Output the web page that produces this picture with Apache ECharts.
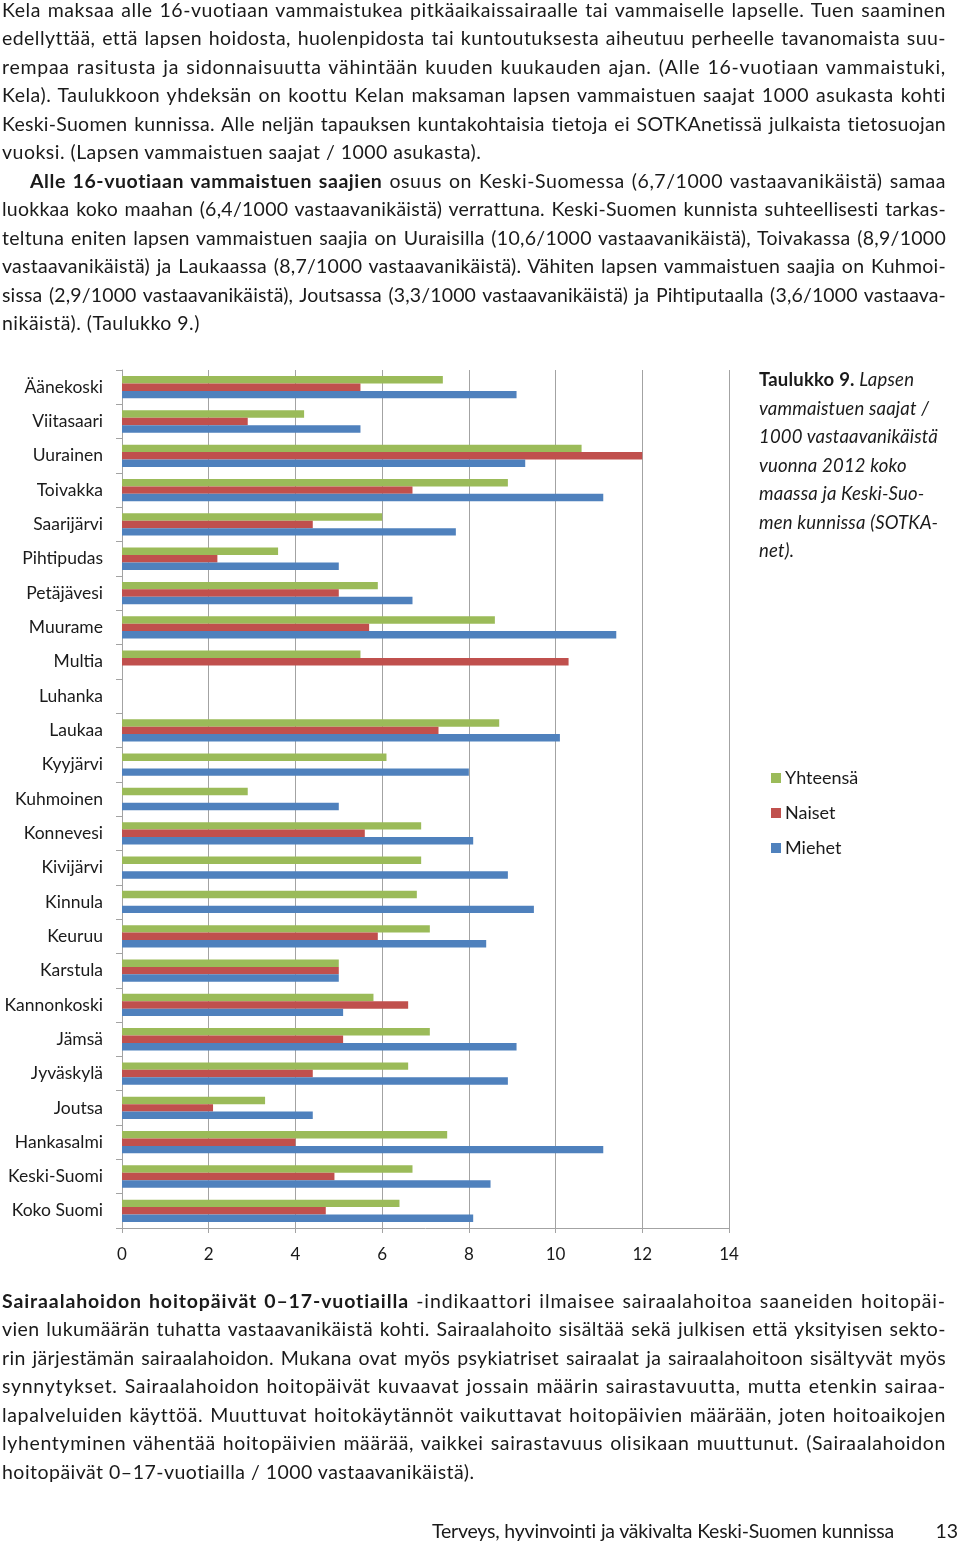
<!DOCTYPE html>
<html>
<head>
<meta charset="utf-8">
<script src="https://cdn.jsdelivr.net/npm/echarts@6/dist/echarts.min.js"></script>
<style>
  html, body { margin: 0; padding: 0; background: #fff; }
  body { width: 960px; height: 1546px; position: relative; overflow: hidden; font-family: Lato, "Open Sans", sans-serif; color: #1a1a1a; }
  #chart { position: absolute; left: 0; top: 0; width: 960px; height: 1546px; }
  .txt { position: absolute; z-index: 2; font-size: 19.5px; line-height: 28.48px; }
  .jl { width: 944px; text-align: justify; text-align-last: justify; white-space: nowrap; }
  .ll { width: 944px; text-align: left; white-space: nowrap; }
  .cap { position: absolute; z-index: 2; left: 759px; top: 365px; font-size: 18.5px; line-height: 28.5px; font-style: italic; white-space: nowrap; letter-spacing: 0.2px; }
  .foot { position: absolute; z-index: 2; top: 1517px; font-size: 19.5px; line-height: 28px; white-space: nowrap; }
</style>
</head>
<body>
<div id="chart"></div>

<div class="txt" style="left:2px; top:-4px;">
  <div class="jl"><span>Kela maksaa alle 16-vuotiaan vammaistukea pitkäaikaissairaalle tai vammaiselle lapselle. Tuen saaminen</span></div>
  <div class="jl"><span>edellyttää, että lapsen hoidosta, huolenpidosta tai kuntoutuksesta aiheutuu perheelle tavanomaista suu-</span></div>
  <div class="jl"><span>rempaa rasitusta ja sidonnaisuutta vähintään kuuden kuukauden ajan. (Alle 16-vuotiaan vammaistuki,</span></div>
  <div class="jl"><span>Kela). Taulukkoon yhdeksän on koottu Kelan maksaman lapsen vammaistuen saajat 1000 asukasta kohti</span></div>
  <div class="jl"><span>Keski-Suomen kunnissa. Alle neljän tapauksen kuntakohtaisia tietoja ei SOTKAnetissä julkaista tietosuojan</span></div>
  <div class="ll"><span>vuoksi. (Lapsen vammaistuen saajat / 1000 asukasta).</span></div>
  <div class="jl" style="width:916px; margin-left:28px;"><span><b>Alle 16-vuotiaan vammaistuen saajien</b> osuus on Keski-Suomessa (6,7/1000 vastaavanikäistä) samaa</span></div>
  <div class="jl"><span>luokkaa koko maahan (6,4/1000 vastaavanikäistä) verrattuna. Keski-Suomen kunnista suhteellisesti tarkas-</span></div>
  <div class="jl"><span>teltuna eniten lapsen vammaistuen saajia on Uuraisilla (10,6/1000 vastaavanikäistä), Toivakassa (8,9/1000</span></div>
  <div class="jl"><span>vastaavanikäistä) ja Laukaassa (8,7/1000 vastaavanikäistä). Vähiten lapsen vammaistuen saajia on Kuhmoi-</span></div>
  <div class="jl"><span>sissa (2,9/1000 vastaavanikäistä), Joutsassa (3,3/1000 vastaavanikäistä) ja Pihtiputaalla (3,6/1000 vastaava-</span></div>
  <div class="ll"><span>nikäistä). (Taulukko 9.)</span></div>
</div>

<div class="cap">
  <div><b style="font-style:normal">Taulukko 9.</b> Lapsen</div>
  <div>vammaistuen saajat /</div>
  <div>1000 vastaavanikäistä</div>
  <div>vuonna 2012 koko</div>
  <div>maassa ja Keski-Suo-</div>
  <div>men kunnissa (SOTKA-</div>
  <div>net).</div>
</div>

<div class="txt" style="left:2px; top:1287px;">
  <div class="jl"><span><b>Sairaalahoidon hoitopäivät 0–17-vuotiailla</b> -indikaattori ilmaisee sairaalahoitoa saaneiden hoitopäi-</span></div>
  <div class="jl"><span>vien lukumäärän tuhatta vastaavanikäistä kohti. Sairaalahoito sisältää sekä julkisen että yksityisen sekto-</span></div>
  <div class="jl"><span>rin järjestämän sairaalahoidon. Mukana ovat myös psykiatriset sairaalat ja sairaalahoitoon sisältyvät myös</span></div>
  <div class="jl"><span>synnytykset. Sairaalahoidon hoitopäivät kuvaavat jossain määrin sairastavuutta, mutta etenkin sairaa-</span></div>
  <div class="jl"><span>lapalveluiden käyttöä. Muuttuvat hoitokäytännöt vaikuttavat hoitopäivien määrään, joten hoitoaikojen</span></div>
  <div class="jl"><span>lyhentyminen vähentää hoitopäivien määrää, vaikkei sairastavuus olisikaan muuttunut. (Sairaalahoidon</span></div>
  <div class="ll"><span>hoitopäivät 0–17-vuotiailla / 1000 vastaavanikäistä).</span></div>
</div>

<div class="foot" style="right:66px; letter-spacing:-0.2px;">Terveys, hyvinvointi ja väkivalta Keski-Suomen kunnissa</div>
<div class="foot" style="right:2px;">13</div>

<script>
// ---- Data ----
const categories = ['Äänekoski','Viitasaari','Uurainen','Toivakka','Saarijärvi','Pihtipudas','Petäjävesi','Muurame','Multia','Luhanka','Laukaa','Kyyjärvi','Kuhmoinen','Konnevesi','Kivijärvi','Kinnula','Keuruu','Karstula','Kannonkoski','Jämsä','Jyväskylä','Joutsa','Hankasalmi','Keski-Suomi','Koko Suomi'];
const yhteensa = [7.4, 4.2, 10.6, 8.9, 6.0, 3.6, 5.9, 8.6, 5.5, null, 8.7, 6.1, 2.9, 6.9, 6.9, 6.8, 7.1, 5.0, 5.8, 7.1, 6.6, 3.3, 7.5, 6.7, 6.4];
const naiset   = [5.5, 2.9, 12.0, 6.7, 4.4, 2.2, 5.0, 5.7, 10.3, null, 7.3, null, null, 5.6, null, null, 5.9, 5.0, 6.6, 5.1, 4.4, 2.1, 4.0, 4.9, 4.7];
const miehet   = [9.1, 5.5, 9.3, 11.1, 7.7, 5.0, 6.7, 11.4, null, null, 10.1, 8.0, 5.0, 8.1, 8.9, 9.5, 8.4, 5.0, 5.1, 9.1, 8.9, 4.4, 11.1, 8.5, 8.1];
const seriesNames = ['Yhteensä', 'Naiset', 'Miehet'];
const xTicks = [0, 2, 4, 6, 8, 10, 12, 14];

// ---- Fit justified text lines: spread letters so word gaps stay natural ----
const spacings = [];
document.querySelectorAll('.jl').forEach(function (el) {
  const span = el.querySelector('span');
  el.style.textAlignLast = 'left';
  const w = span.getBoundingClientRect().width;
  const target = el.getBoundingClientRect().width;
  const txt = span.textContent;
  const n = txt.length;
  const nSpaces = (txt.match(/ /g) || []).length;
  let ls = (target - w - nSpaces * 1.2 - 2) / n;
  ls = Math.max(-1.5, Math.min(1.0, ls));
  el.style.letterSpacing = ls.toFixed(3) + 'px';
  spacings.push(ls);
  el.style.textAlignLast = 'justify';
});
const avgLs = spacings.reduce(function (a, b) { return a + b; }, 0) / spacings.length;
document.querySelectorAll('.ll').forEach(function (el) { el.style.letterSpacing = avgLs.toFixed(3) + 'px'; });

const chart = echarts.init(document.getElementById('chart'), null, { renderer: 'canvas' });
const gray = '#a3a3a3';
const fontFam = 'Lato, "Open Sans", sans-serif';
chart.setOption({
  animation: false,
  color: ['#9BBB59', '#C0504D', '#4F81BD'],
  grid: { left: 122, top: 370, width: 607, height: 858, containLabel: false },
  legend: {
    data: seriesNames,
    orient: 'vertical',
    left: 766,
    top: 764,
    icon: 'rect',
    itemWidth: 10,
    itemHeight: 10,
    itemGap: 17,
    textStyle: { fontFamily: fontFam, fontSize: 18, color: '#1a1a1a', lineHeight: 18, padding: [0, 0, 0, -1] }
  },
  xAxis: {
    type: 'value',
    min: 0, max: 14, interval: 2,
    axisLine: { show: true, lineStyle: { color: gray, width: 1 } },
    axisTick: { show: true, length: 5, lineStyle: { color: gray } },
    splitLine: { show: true, lineStyle: { color: gray, width: 1 } },
    axisLabel: {
      fontFamily: fontFam, fontSize: 17, color: '#1a1a1a', margin: 18,
      formatter: function (v) { return xTicks.indexOf(v) >= 0 ? String(v) : ''; }
    }
  },
  yAxis: {
    type: 'category',
    data: categories,
    inverse: true,
    axisLine: { show: true, lineStyle: { color: gray, width: 1 } },
    axisTick: { show: true, length: 6, lineStyle: { color: gray } },
    splitLine: { show: false },
    axisLabel: { fontFamily: fontFam, fontSize: 17.5, color: '#1a1a1a', margin: 19, padding: [0, 0, 2, 0] }
  },
  series: [
    { name: seriesNames[0], type: 'bar', data: yhteensa, barGap: '0%', barCategoryGap: '35%' },
    { name: seriesNames[1], type: 'bar', data: naiset, barGap: '0%', barCategoryGap: '35%' },
    { name: seriesNames[2], type: 'bar', data: miehet, barGap: '0%', barCategoryGap: '35%' }
  ]
});
</script>
</body>
</html>
